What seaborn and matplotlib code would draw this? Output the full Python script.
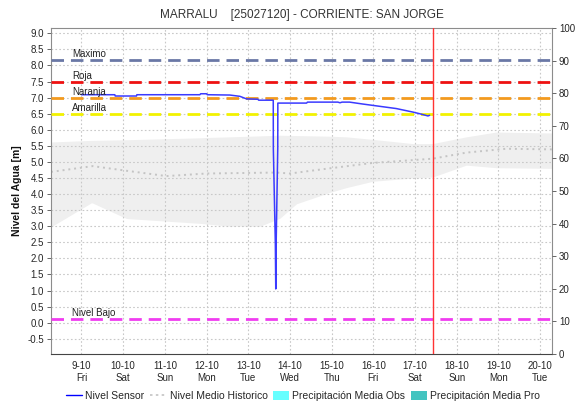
import matplotlib
matplotlib.use("Agg")
import matplotlib.pyplot as plt
import matplotlib.dates as mdates
from matplotlib.lines import Line2D
from matplotlib.patches import Patch
import seaborn as sns
import pandas as pd

# day of October 2020 (fractional) and level [m]
sensor_day = [9.0, 9.8, 9.81, 10.32, 10.33, 11.84, 11.86, 12.0, 12.02, 12.56,
              12.8, 12.96, 13.23, 13.25, 13.60, 13.602, 13.65, 13.66, 13.67,
              13.708, 13.71, 14.4, 14.42, 15.15, 15.2, 15.25, 15.43, 15.75,
              16.15, 16.55, 16.95, 17.11, 17.31, 17.35]
sensor_level = [7.09, 7.09, 7.05, 7.05, 7.09, 7.09, 7.12, 7.12, 7.09, 7.08,
                7.04, 6.96, 6.95, 6.92, 6.92, 5.42, 2.47, 1.05, 2.47,
                5.42, 6.83, 6.83, 6.86, 6.86, 6.84, 6.86, 6.86, 6.80,
                6.73, 6.66, 6.55, 6.50, 6.43, 6.45]

hist_day = [8.27, 9.27, 10.0, 11.04, 12.0, 13.68, 14.0, 14.95, 15.99, 17.42,
            18.23, 19.19, 20.28]
hist_mean = [4.69, 4.87, 4.74, 4.56, 4.64, 4.67, 4.64, 4.80, 4.97, 5.10,
             5.29, 5.41, 5.39]

band_day = [8.27, 9.24, 9.27, 10.08, 11.84, 12.0, 12.56, 13.28, 13.76, 14.16,
            14.95, 15.35, 15.99, 16.95, 17.42, 18.23, 18.95, 20.28]
band_low = [2.98, 3.73, 3.72, 3.24, 3.09, 3.07, 3.0, 3.0, 3.25, 3.7,
            4.05, 4.2, 4.4, 4.5, 4.53, 4.9, 4.82, 4.8]
band_high = [5.62, 5.67, 5.67, 5.69, 5.75, 5.76, 5.78, 5.81, 5.83, 5.82,
             5.80, 5.78, 5.70, 5.57, 5.57, 5.78, 5.93, 5.9]

thresholds = ["Maximo", "Roja", "Naranja", "Amarilla", "Nivel Bajo"]
threshold_levels = [8.16, 7.48, 6.98, 6.48, 0.1]
threshold_colors = ["#6a78a6", "#ee1111", "#f39a1e", "#f2f200", "#f03cf0"]

now_day = 17.44
tick_days = list(range(9, 21))
tick_weekdays = ["Fri", "Sat", "Sun", "Mon", "Tue", "Wed", "Thu", "Fri",
                 "Sat", "Sun", "Mon", "Tue"]


def to_time(days):
    base = pd.Timestamp("2020-10-01")
    return base + pd.to_timedelta(pd.Series(days, dtype=float) - 1, unit="D")


sns.set_style("white")
plt.rcParams["font.family"] = ["Liberation Sans", "DejaVu Sans"]

fig = plt.figure(figsize=(5.81, 4.11), dpi=100)
ax = fig.add_axes([51 / 581, 57 / 411, 501 / 581, 326 / 411])

ax.fill_between(to_time(band_day), band_low, band_high,
                color="#efefef", lw=0, zorder=0.2)

sensor = pd.DataFrame({"t": to_time(sensor_day), "level": sensor_level})
hist = pd.DataFrame({"t": to_time(hist_day), "level": hist_mean})
sns.lineplot(data=hist, x="t", y="level", ax=ax, color="#c4c4c4",
             lw=1.4, linestyle=(0, (1, 2)), estimator=None, zorder=2)
sns.lineplot(data=sensor, x="t", y="level", ax=ax, color="#3a3aff",
             lw=1.1, estimator=None, zorder=4)

label_t = to_time([8.77])[0]
for name, lev, col in zip(thresholds, threshold_levels, threshold_colors):
    ax.axhline(lev, color=col, lw=2, linestyle=(0, (4.5, 2.5)), zorder=3)
    ax.text(label_t, lev + 0.05, name, fontsize=7, color="#222222",
            va="bottom", ha="left", zorder=5)

ax.axvline(to_time([now_day])[0], color="#ff3333", lw=1, zorder=5)

ax.set_xlim(to_time([8.27])[0], to_time([20.285])[0])
ax.set_ylim(-0.973, 9.165)
ax.set_yticks([v / 2 for v in range(-1, 19)])
ax.yaxis.set_major_formatter(plt.FuncFormatter(lambda v, p: f"{v:.1f}"))
ax.set_xticks(to_time(tick_days))
ax.set_xticklabels([f"{d}-10\n{w}" for d, w in zip(tick_days, tick_weekdays)])
ax.xaxis.set_minor_locator(mdates.HourLocator())
ax.tick_params(axis="x", which="minor", length=2, width=0.5, color="#555555")
ax.tick_params(axis="both", which="major", labelsize=7, length=3,
               width=0.7, color="#666666", pad=2)
ax.set_xlabel("")
ax.set_ylabel("Nivel del Agua [m]", fontsize=7.5, labelpad=4,
              color="#111111", fontweight="semibold")

ax.set_axisbelow(True)
ax.grid(True, color="#c8c8c8", linestyle=(0, (1.5, 2)), lw=0.8)
for sp in ax.spines.values():
    sp.set_color("#8c8c8c")
    sp.set_linewidth(0.8)
ax.spines["bottom"].set_color("#444444")

ax2 = ax.twinx()
ax2.set_ylim(0, 100)
ax2.set_yticks(range(0, 101, 10))
ax2.tick_params(axis="y", labelsize=7, length=3, width=0.7,
                color="#666666", pad=2)
# label sits at the right edge, mostly outside the picture as in the original
ax2.set_ylabel("Precipitación [mm]", fontsize=7.5, labelpad=14, rotation=90)
for sp in ax2.spines.values():
    sp.set_visible(False)

ax.set_title("MARRALU    [25027120] - CORRIENTE: SAN JORGE",
             fontsize=8.5, color="#333333", pad=7)

handles = [
    Line2D([], [], color="#0000ff", lw=1),
    Line2D([], [], color="#c4c4c4", lw=1.2, linestyle=(0, (1.5, 2))),
    Patch(facecolor="#66ffff", edgecolor="none"),
    Patch(facecolor="#44c4c0", edgecolor="none"),
]
labels = ["Nivel Sensor", "Nivel Medio Historico",
          "Precipitación Media Obs", "Precipitación Media Pro"]
fig.legend(handles, labels, loc="center", bbox_to_anchor=(303 / 581, 1 - 396 / 411),
           ncol=4, frameon=False, fontsize=7.5, handlelength=1.6,
           handletextpad=0.3, columnspacing=0.5, handleheight=1.0)

fig.savefig("out.png", dpi=100, facecolor="white")
